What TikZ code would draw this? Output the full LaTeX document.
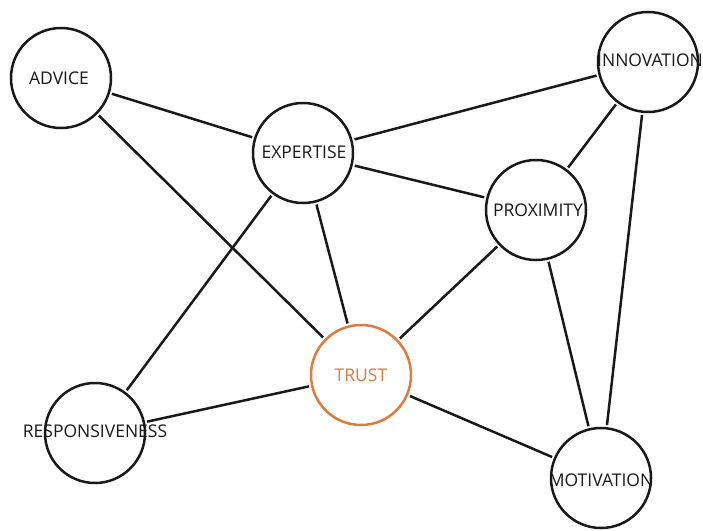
\documentclass[tikz,border=0pt]{standalone}
\usepackage{fontspec}
\setmainfont{Open Sans}
\definecolor{trustc}{RGB}{226,122,62}
\definecolor{linec}{RGB}{25,25,25}
\begin{document}
\begin{tikzpicture}[x=1pt,y=-1pt,
  concept/.style={circle,draw=linec,line width=2.5pt,minimum size=100pt,inner sep=0pt},
  trustnode/.style={concept,draw=trustc},
  lbl/.style={inner sep=0pt,font=\fontsize{17.5}{20}\selectfont,text=black!90},
  link/.style={line width=2.5pt,draw=linec,shorten <=2pt,shorten >=2pt}]
\useasboundingbox (0,0) rectangle (703,530);
\node[concept] (adv) at (61,78) {};
\node[concept] (exp) at (303,153) {};
\node[concept] (inn) at (648,62) {};
\node[concept] (pro) at (536,210) {};
\node[trustnode] (tru) at (361,375) {};
\node[concept] (res) at (95,433) {};
\node[concept] (mot) at (601,478) {};
\node[lbl] (advt) at (59,78) {ADVICE};
\node[lbl] (expt) at (304,152) {EXPERTISE};
\node[lbl] (innt) at (650,60) {INNOVATION};
\node[lbl] (prot) at (538,210) {PROXIMITY};
\node[lbl,text=trustc] (trut) at (361,375) {TRUST};
\node[lbl] (rest) at (95,431) {RESPONSIVENESS};
\node[lbl] (mott) at (601,480) {MOTIVATION};
\draw[link] (adv) -- (exp);
\draw[link] (adv) -- (tru);
\draw[link] (exp) -- (inn);
\draw[link] (exp) -- (pro);
\draw[link] (exp) -- (tru);
\draw[link] (exp) -- (res);
\draw[link] (inn) -- (pro);
\draw[link] (inn) -- (mot);
\draw[link] (pro) -- (tru);
\draw[link] (pro) -- (mot);
\draw[link] (tru) -- (res);
\draw[link] (tru) -- (mot);
\end{tikzpicture}
\end{document}
